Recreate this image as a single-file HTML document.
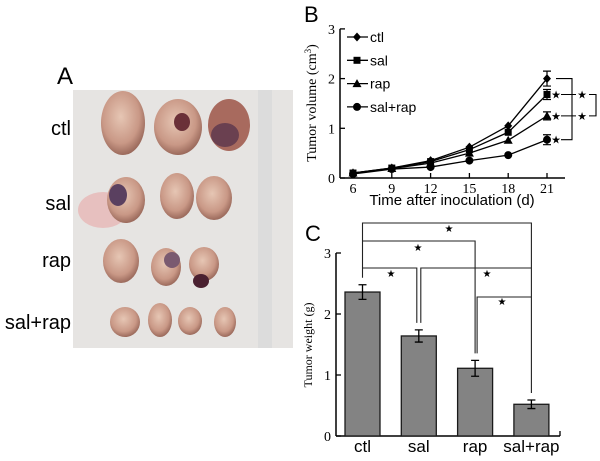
<!DOCTYPE html>
<html><head><meta charset="utf-8"><style>
body{margin:0;background:#fff;}
svg{display:block;}
.sans{font-family:"Liberation Sans",sans-serif;}
.serif{font-family:"Liberation Serif",serif;}
</style></head><body>
<svg id="fig" width="600" height="461" viewBox="0 0 600 461" xmlns="http://www.w3.org/2000/svg">
<defs>
<radialGradient id="tum" cx="45%" cy="40%" r="60%"><stop offset="0" stop-color="#e6c6b4"/><stop offset="0.7" stop-color="#c99886"/><stop offset="1" stop-color="#9b6a5c"/></radialGradient>
</defs>
<g>
<text x="57" y="84" class="sans" font-size="24">A</text>
<rect x="73" y="90" width="220" height="258" fill="#e6e4e2"/>
<rect x="258" y="90" width="14" height="258" fill="#dcdcdc"/>
<ellipse cx="103" cy="210" rx="25" ry="18" fill="#e8a8a8" opacity="0.6"/>
<g>
<ellipse cx="123" cy="123" rx="22" ry="32" fill="url(#tum)"/>
<ellipse cx="178" cy="127" rx="24" ry="28" fill="url(#tum)"/>
<ellipse cx="182" cy="122" rx="8" ry="9" fill="#6a3038"/>
<ellipse cx="229" cy="125" rx="21" ry="26" fill="#a86a5e"/>
<ellipse cx="225" cy="135" rx="14" ry="12" fill="#6a4050"/>
</g>
<g>
<ellipse cx="126" cy="200" rx="19" ry="23" fill="url(#tum)"/>
<ellipse cx="118" cy="195" rx="9" ry="11" fill="#5a4060"/>
<ellipse cx="177" cy="196" rx="17" ry="23" fill="url(#tum)"/>
<ellipse cx="214" cy="198" rx="18" ry="22" fill="url(#tum)"/>
</g>
<g>
<ellipse cx="121" cy="261" rx="18" ry="22" fill="url(#tum)"/>
<ellipse cx="166" cy="267" rx="15" ry="19" fill="url(#tum)"/>
<ellipse cx="172" cy="260" rx="8" ry="8" fill="#7a5a70"/>
<ellipse cx="204" cy="264" rx="15" ry="17" fill="url(#tum)"/>
<ellipse cx="201" cy="281" rx="8" ry="7" fill="#4a2030"/>
</g>
<g>
<ellipse cx="125" cy="322" rx="15" ry="15" fill="url(#tum)"/>
<ellipse cx="160" cy="320" rx="12" ry="17" fill="url(#tum)"/>
<ellipse cx="190" cy="321" rx="12" ry="14" fill="url(#tum)"/>
<ellipse cx="225" cy="322" rx="11" ry="15" fill="url(#tum)"/>
</g>
<g class="sans" font-size="20" text-anchor="end">
<text x="71" y="135">ctl</text>
<text x="71" y="210">sal</text>
<text x="71" y="267">rap</text>
<text x="71" y="329">sal+rap</text>
</g>
</g>
<g id="pb">
<text x="304" y="22" class="sans" font-size="22">B</text>
<text transform="translate(316,103) rotate(-90)" text-anchor="middle" class="serif" font-size="14">Tumor volume (cm<tspan font-size="9" dy="-5">3</tspan><tspan dy="5">)</tspan></text>
<text x="452" y="205" text-anchor="middle" class="sans" font-size="15">Time after inoculation (d)</text>
</g>
<g id="pc">
<text x="305" y="241" class="sans" font-size="22">C</text>
<text transform="translate(312,345) rotate(-90)" text-anchor="middle" class="serif" font-size="12">Tumor weight (g)</text>
</g>
</svg>
<script>
const days=[6,9,12,15,18,21];
const ctlVol=[0.1,0.2,0.35,0.62,1.05,2.0];
const salVol=[0.1,0.2,0.33,0.57,0.92,1.68];
const rapVol=[0.1,0.19,0.3,0.5,0.76,1.25];
const salRapVol=[0.08,0.18,0.22,0.35,0.46,0.77];
const volErr21=[0.15,0.1,0.08,0.1];
const volTicks=[0,1,2,3];
const groups=["ctl","sal","rap","sal+rap"];
const weights=[2.36,1.64,1.11,0.52];
const weightErr=[0.12,0.1,0.13,0.07];
const weightTicks=[0,1,2,3];

const NS="http://www.w3.org/2000/svg";
function mk(parent,tag,attrs){const el=document.createElementNS(NS,tag);for(const k in attrs)el.setAttribute(k,attrs[k]);parent.appendChild(el);return el;}
const pb=document.getElementById('pb'), pc=document.getElementById('pc');

const bx=d=>353+(d-6)*(194/15);
const by=v=>178-v*49.7;
let e;
e=mk(pb,'line',{x1:340,y1:by(3),x2:340,y2:178,stroke:'#000','stroke-width':1.5});


e=mk(pb,'line',{x1:340,y1:178,x2:565,y2:178,stroke:'#000','stroke-width':1.5});


volTicks.forEach(t=>{
 mk(pb,'line',{x1:340,y1:by(t),x2:345,y2:by(t),stroke:'#000','stroke-width':1.3});
 const tx=mk(pb,'text',{x:335,y:by(t)+5,'text-anchor':'end',class:'serif','font-size':14});tx.textContent=t;
 
 
});
days.forEach(d=>{
 mk(pb,'line',{x1:bx(d),y1:178,x2:bx(d),y2:173,stroke:'#000','stroke-width':1.3});
 const tx=mk(pb,'text',{x:bx(d),y:193,'text-anchor':'middle',class:'serif','font-size':14});tx.textContent=d;
 
 
});
function marker(g,type,x,y){
 if(type==='diamond')mk(g,'path',{d:`M${x} ${y-4.5}L${x+4} ${y}L${x} ${y+4.5}L${x-4} ${y}Z`,fill:'#000'});
 else if(type==='square')mk(g,'rect',{x:x-3.5,y:y-3.5,width:7,height:7,fill:'#000'});
 else if(type==='triangle')mk(g,'path',{d:`M${x} ${y-4.5}L${x+4.5} ${y+3.5}L${x-4.5} ${y+3.5}Z`,fill:'#000'});
 else mk(g,'circle',{cx:x,cy:y,r:4,fill:'#000'});
}
const seriesList=[[ctlVol,'diamond','ctl'],[salVol,'square','sal'],[rapVol,'triangle','rap'],[salRapVol,'circle','sal+rap']];
seriesList.forEach((s,i)=>{
 const g=mk(pb,'g',{});
 
 
 mk(g,'polyline',{points:s[0].map((v,j)=>bx(days[j])+','+by(v)).join(' '),fill:'none',stroke:'#000','stroke-width':1.3});
 const ex=bx(21), er=volErr21[i], v=s[0][5];
 mk(g,'path',{d:`M${ex} ${by(v+er)}V${by(v-er)}M${ex-4} ${by(v+er)}H${ex+4}M${ex-4} ${by(v-er)}H${ex+4}`,stroke:'#000','stroke-width':1.2,fill:'none'});
 s[0].forEach((v,j)=>marker(g,s[1],bx(days[j]),by(v)));
 const lg=mk(pb,'g',{});
 
 
 const ly=37+i*23.3;
 mk(lg,'line',{x1:347,y1:ly,x2:368,y2:ly,stroke:'#000','stroke-width':1.3});
 marker(lg,s[1],357,ly);
 const t=mk(lg,'text',{x:370,y:ly+5,class:'sans','font-size':14});t.textContent=s[2];
});
function star(g,x,y,s){const t=mk(g,'text',{x:x,y:y+4,'text-anchor':'middle','font-size':s||11,class:'serif'});t.textContent='★';return t;}
const sb=mk(pb,'g',{stroke:'#000','stroke-width':1.1,fill:'none'});


const yC=by(ctlVol[5]),yS=by(salVol[5]),yR=by(rapVol[5]),yM=by(salRapVol[5]);
mk(sb,'path',{d:`M556 ${yC}H572V${yM}H561M561 ${yS}H572M561 ${yR}H572`});
mk(sb,'path',{d:`M589 ${yS}H596V${yR}H589M572 ${yS}H576M572 ${yR}H576`});
const st=mk(pb,'g',{fill:'#000'});


[yS,yR,yM].forEach(y=>star(st,556,y));
[yS,yR].forEach(y=>star(st,582,y));

const cyf=v=>436-v*61;
const cxf=i=>362.5+i*56.3;
e=mk(pc,'line',{x1:336,y1:cyf(3),x2:336,y2:436,stroke:'#000','stroke-width':1.5});


e=mk(pc,'line',{x1:336,y1:436,x2:560,y2:436,stroke:'#000','stroke-width':1.5});


mk(pc,'line',{x1:560,y1:436,x2:560,y2:431,stroke:'#000','stroke-width':1.3});
weightTicks.forEach(t=>{
 mk(pc,'line',{x1:336,y1:cyf(t),x2:341,y2:cyf(t),stroke:'#000','stroke-width':1.3});
 const tx=mk(pc,'text',{x:331,y:cyf(t)+5,'text-anchor':'end',class:'serif','font-size':14});tx.textContent=t;
 
 
});
groups.forEach((g,i)=>{
 const b=mk(pc,'rect',{x:cxf(i)-17.5,y:cyf(weights[i]),width:35,height:436-cyf(weights[i]),fill:'#838383',stroke:'#1a1a1a','stroke-width':1.3});
 
 
 const hi=cyf(weights[i]+weightErr[i]),lo=cyf(weights[i]-weightErr[i]);
 const eb=mk(pc,'path',{d:`M${cxf(i)} ${hi}V${lo}M${cxf(i)-4} ${hi}H${cxf(i)+4}M${cxf(i)-4} ${lo}H${cxf(i)+4}`,stroke:'#000','stroke-width':1.3,fill:'none'});
 
 
 const t=mk(pc,'text',{x:cxf(i),y:452,'text-anchor':'middle',class:'sans','font-size':17});t.textContent=g;
 
 
});
const sc=mk(pc,'g',{stroke:'#222','stroke-width':1.1,fill:'none'});


const topOf=i=>cyf(weights[i]+weightErr[i])-7;
const x0=cxf(0),x1=cxf(1),x2=cxf(2),x3=cxf(3);
mk(sc,'path',{d:`M${x0} ${topOf(0)}V223H${x3}V${topOf(3)}`});
mk(sc,'path',{d:`M${x0} 241H${x2}V${topOf(2)}`});
mk(sc,'path',{d:`M${x0} 268H${x1-2}V${topOf(1)}`});
mk(sc,'path',{d:`M${x1+2} ${topOf(1)}V268H${x3}`});
mk(sc,'path',{d:`M${x2+2} ${topOf(2)}V297H${x3}`});
const sc2=mk(pc,'g',{fill:'#000'});


star(sc2,449,228,10);star(sc2,418,247,10);star(sc2,391,273,10);star(sc2,487,273,10);star(sc2,502,301,10);
</script>
</body></html>
